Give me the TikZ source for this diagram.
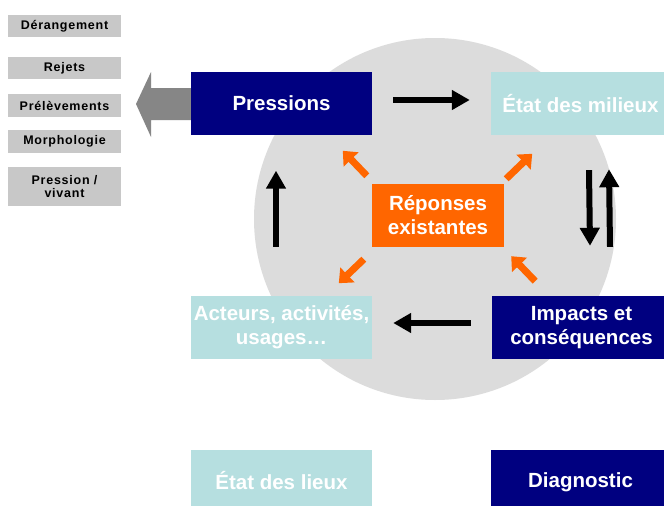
\documentclass[tikz,border=0pt]{standalone}
\usepackage{fontspec}
\setmainfont{Liberation Sans}
\newfontfamily\listfont[LetterSpace=6]{Liberation Sans}
\usetikzlibrary{arrows.meta}
\definecolor{navy}{HTML}{000080}
\definecolor{teal}{HTML}{B6DFE0}
\definecolor{orng}{HTML}{FF6600}
\definecolor{lbox}{HTML}{C8C8C8}
\definecolor{circ}{HTML}{DCDCDC}
\definecolor{garr}{HTML}{868686}
\tikzset{
  bigbox/.style={rectangle, inner sep=0pt, align=center, text=white,
    font=\fontsize{20.5}{24}\selectfont\bfseries},
  navybox/.style={bigbox, fill=navy},
  tealbox/.style={bigbox, fill=teal},
  orangebox/.style={bigbox, fill=orng, minimum width=132pt, minimum height=63pt},
  listbox/.style={rectangle, fill=lbox, inner sep=0pt, align=center, text=black,
    minimum width=113pt, font=\listfont\fontsize{12.5}{13.5}\selectfont\bfseries},
  blk/.style={line width=6pt, draw=black, -{Triangle[length=18pt,width=19pt]}},
  org/.style={line width=7pt, draw=orng, -{Triangle[length=12pt,width=20pt]}},
}
\begin{document}
\begin{tikzpicture}[x=1pt,y=-1pt]
\useasboundingbox (0,0) rectangle (664,506);
\clip (0,0) rectangle (664,506);
\fill[white] (0,0) rectangle (664,506);
% big circle
\fill[circ] (435,219) circle[radius=181];
% left list
\node[listbox, minimum height=22pt] (d1) at (64.5,26) {Dérangement};
\node[listbox, minimum height=22pt] (d2) at (64.5,68) {Rejets};
\node[listbox, minimum height=23pt] (d3) at (64.5,105.5) {Prélèvements};
\node[listbox, minimum height=23pt] (d4) at (64.5,141.5) {Morphologie};
\node[listbox, minimum height=39pt] (d5) at (64.5,186.5) {Pression /\\vivant};
% big gray arrow
\fill[garr] (136,104) -- (151,72) -- (151,88) -- (195,88) -- (195,120) -- (151,120) -- (151,137) -- cycle;
% main boxes
\node[navybox, minimum width=181pt, minimum height=63pt] (P) at (281.5,103.5) {Pressions};
\node[tealbox, minimum width=179pt, minimum height=63pt] (E) at (580.5,103.5) {État des milieux};
\node[navybox, minimum width=179pt, minimum height=63pt] (I) at (581.5,327.5) {Impacts et\\conséquences};
\node[tealbox, minimum width=181pt, minimum height=63pt] (A) at (281.5,327.5) {Acteurs, activités,\\usages…};
\node[tealbox, minimum width=181pt, minimum height=63pt, text depth=2pt] (L) at (281.5,481.5) {État des lieux};
\node[navybox, minimum width=179pt, minimum height=63pt, text depth=2pt] (D) at (580.5,481.5) {Diagnostic};
\node[orangebox] (R) at (438,215.5) {Réponses\\existantes};
% black arrows
\draw[blk] ([shift={(21,-3.5)}]P.east) -- ([shift={(-21,-3.5)}]E.west);
\draw[blk] ([shift={(8.5,35)}]E.south) -- ([shift={(8.5,-50)}]I.north);
\draw[blk] ([shift={(28.5,-49)}]I.north) -- ([shift={(28.5,34)}]E.south);
\draw[blk] ([shift={(-21,-4.5)}]I.west) -- ([shift={(21,-4.5)}]A.east);
\draw[blk] ([shift={(-5.5,-49)}]A.north) -- ([shift={(-5.5,35.5)}]P.south);
% orange arrows
\draw[org] ([shift={(-5,-8)}]R.north west) -- ([shift={(-29,-33)}]R.north west);
\draw[org] ([shift={(2,-5)}]R.north east) -- ([shift={(28,-30)}]R.north east);
\draw[org] ([shift={(31,34)}]R.south east) -- ([shift={(7,9)}]R.south east);
\draw[org] ([shift={(-8,12)}]R.south west) -- ([shift={(-33,36)}]R.south west);
\end{tikzpicture}
\end{document}
